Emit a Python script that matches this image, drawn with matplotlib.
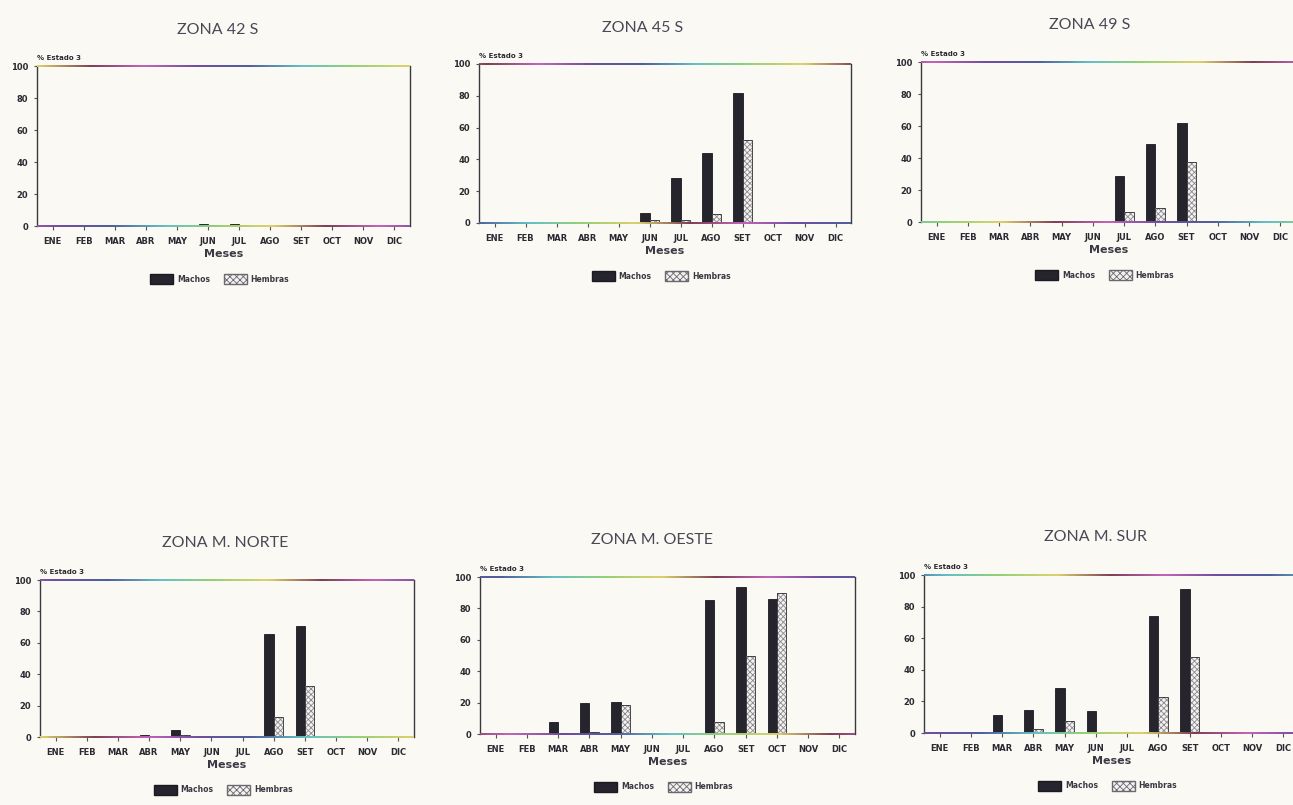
import numpy as np
import matplotlib
matplotlib.use("Agg")
import matplotlib.pyplot as plt
from matplotlib.collections import LineCollection
from matplotlib.colors import LinearSegmentedColormap
from matplotlib.patches import Patch

# ---- data -------------------------------------------------------------
meses = ['ENE', 'FEB', 'MAR', 'ABR', 'MAY', 'JUN', 'JUL', 'AGO', 'SET', 'OCT', 'NOV', 'DIC']
zonas = ['ZONA 42 S', 'ZONA 45 S', 'ZONA 49 S',
         'ZONA M. NORTE', 'ZONA M. OESTE', 'ZONA M. SUR']
yticks = [0, 20, 40, 60, 80, 100]

machos_42s = [0, 0, 0, 0, 0, 1, 1, 0, 0, 0, 0, 0]
hembras_42s = [0, 0, 0, 0, 0, 0.5, 0.5, 0, 0, 0, 0, 0]
machos_45s = [0, 0, 0, 0, 0, 6, 28, 44, 82, 0, 0, 0]
hembras_45s = [0, 0, 0, 0, 0, 2, 2, 5.5, 52, 0, 0, 0]
machos_49s = [0, 0, 0, 0, 0, 0, 29, 48.5, 62, 0, 0, 0]
hembras_49s = [0, 0, 0, 0, 0, 0, 6, 8.5, 37.5, 0, 0, 0]
machos_norte = [0, 0, 0, 1, 4.5, 0, 0, 65.5, 70.5, 0, 0, 0]
hembras_norte = [0, 0, 0, 0.5, 1, 0, 0, 13, 32.5, 0, 0, 0]
machos_oeste = [0, 0, 7.5, 19.5, 20.5, 0, 0, 85.5, 93.5, 86, 0, 0]
hembras_oeste = [0, 0, 0.8, 1.5, 18.5, 0, 0, 7.5, 50, 90, 0, 0]
machos_sur = [0, 0, 11.5, 14.5, 28.5, 14, 0, 74, 91, 0, 0, 0]
hembras_sur = [0, 0, 0, 2.5, 7.5, 0, 0, 23, 48, 0, 0, 0]

machos = [machos_42s, machos_45s, machos_49s, machos_norte, machos_oeste, machos_sur]
hembras = [hembras_42s, hembras_45s, hembras_49s, hembras_norte, hembras_oeste, hembras_sur]

# ---- layout -----------------------------------------------------------
W, H = 1293, 805
paper = '#fbf9f3'
ink = '#2b2a33'

# axes boxes in pixels: left, top, right, bottom
boxes = [(37, 66, 410, 226), (479, 64, 851, 223), (921, 62, 1296, 222),
         (40, 580, 414, 737), (480, 577, 855, 734), (924, 575, 1299, 733)]
title_pos = [(218, 30), (643, 28), (1090, 25), (225, 543), (652, 540), (1095, 537)]

border_cmap = LinearSegmentedColormap.from_list(
    'border', ['#d9cf6a', '#7b3a50', '#c45fb8', '#6b4a9e', '#4b5a9c',
               '#5fbfc4', '#93cf72', '#d9cf6a'])

plt.rcParams['font.family'] = ['DejaVu Sans']
plt.rcParams['hatch.linewidth'] = 0.6
fig = plt.figure(figsize=(W / 100, H / 100), dpi=100, facecolor=paper)

x = np.arange(len(meses))
bw = 0.3

for i, (m, h) in enumerate(zip(machos, hembras)):
    l, t, r, b = boxes[i]
    ax = fig.add_axes([l / W, 1 - b / H, (r - l) / W, (b - t) / H])
    ax.set_facecolor(paper)

    ax.bar(x, m, width=-bw, align='edge', color='#26252d', edgecolor='#1a1a22',
           linewidth=0.6, zorder=3)
    ax.bar(x, h, width=bw, align='edge', color='#f4f2ee', edgecolor='#8a8890',
           hatch='xxxxxx', linewidth=0, zorder=3)
    ax.bar(x, h, width=bw, align='edge', fill=False, edgecolor='#2a2a30',
           linewidth=0.6, zorder=4)

    ax.set_xlim(-0.5, len(meses) - 0.5)
    ax.set_ylim(0, 100)
    ax.set_xticks(x)
    ax.set_xticklabels(meses, fontsize=6, fontweight='bold', color=ink)
    ax.set_yticks(yticks)
    ax.set_yticklabels([str(v) for v in yticks], fontsize=6, fontweight='bold', color=ink)
    ax.tick_params(axis='x', length=3, width=0.8, pad=5, color='#555')
    ax.tick_params(axis='y', length=2.5, width=0.8, pad=4, color='#555')

    for side in ('left', 'right'):
        ax.spines[side].set_color('#3a3940')
        ax.spines[side].set_linewidth(1.0)
    for side in ('top', 'bottom'):
        ax.spines[side].set_visible(False)

    # top and bottom borders drawn as colour-shifting lines
    xs = np.linspace(-0.5, len(meses) - 0.5, 200)
    for yline, shift in ((100, 0.13 * i), (0, 0.37 + 0.21 * i)):
        pts = np.column_stack([xs, np.full_like(xs, yline)]).reshape(-1, 1, 2)
        segs = np.concatenate([pts[:-1], pts[1:]], axis=1)
        vals = (np.linspace(0, 1, len(segs)) + shift) % 1.0
        lc = LineCollection(segs, cmap=border_cmap, linewidths=1.4, zorder=5,
                            clip_on=False)
        lc.set_array(vals)
        ax.add_collection(lc)

    ax.set_xlabel('Meses', fontsize=8, fontweight='bold', color='#3a3944', labelpad=2)
    ax.text(0.0, 1.03, '% Estado 3', transform=ax.transAxes, fontsize=5,
            fontweight='bold', color=ink, ha='left', va='bottom')

    handles = [Patch(facecolor='#26252d', edgecolor='#1a1a22', label='Machos'),
               Patch(facecolor='#f4f2ee', edgecolor='#6a6870', hatch='xxxxx',
                     label='Hembras')]
    ax.legend(handles=handles, loc='upper center', bbox_to_anchor=(0.49, -0.26),
              ncol=2, frameon=False, prop={'size': 5.5, 'weight': 'bold'},
              handlelength=3.0, handleheight=1.6, columnspacing=1.8,
              handletextpad=0.5, labelcolor='#3a3944')

    tx, ty = title_pos[i]
    fig.text(tx / W, 1 - ty / H, zonas[i], ha='center', va='center', fontsize=11.5,
             color='#4a4856', family=['Lato', 'DejaVu Sans'], fontweight='normal')

fig.savefig('out.png', dpi=100, facecolor=paper)
